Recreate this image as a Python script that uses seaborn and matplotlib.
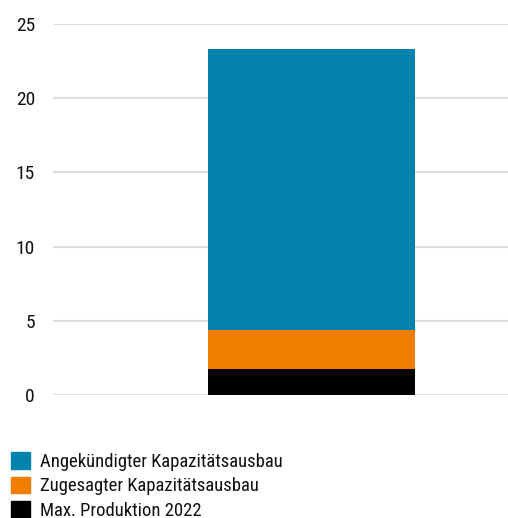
import numpy as np
import pandas as pd
import matplotlib
matplotlib.use("Agg")
import matplotlib.pyplot as plt
from matplotlib.patches import Patch
import seaborn as sns

# layers from bottom to top
labels = ["Max. Produktion 2022", "Zugesagter Kapazitätsausbau", "Angekündigter Kapazitätsausbau"]
values = [1.75, 2.63, 18.92]
colors = ["#000000", "#ef7d00", "#0282ad"]
category = ["Gesamt"]

sns.set_style("white")
plt.rcParams["font.family"] = ["Roboto Condensed", "DejaVu Sans"]

fig = plt.figure(figsize=(5.08, 5.18), dpi=100)
ax = fig.add_axes([53 / 508, 123 / 518, 455 / 508, 371 / 518])

totals = np.cumsum(values)
# draw tallest first so lower layers sit on top
for lab, tot, col in reversed(list(zip(labels, totals, colors))):
    df = pd.DataFrame({"cat": category, "val": [tot]})
    sns.barplot(data=df, x="cat", y="val", color=col, saturation=1, width=0.8,
                linewidth=0, ax=ax, zorder=3)

ax.set_xlim(-1.0, 0.76)
ax.set_ylim(0, 25)
ax.set_yticks([0, 5, 10, 15, 20, 25])
ax.set_xticks([])
ax.set_xlabel("")
ax.set_ylabel("")
ax.grid(axis="y", color="#dddddd", linewidth=1.5, zorder=0)
ax.set_axisbelow(True)
for s in ax.spines.values():
    s.set_visible(False)
ax.tick_params(axis="y", length=0, pad=13, labelsize=14, labelcolor="#111111")

handles = [Patch(color=c) for c in reversed(colors)]
fig.legend(handles, list(reversed(labels)), loc="upper left", bbox_to_anchor=(-0.004, 0.152),
           frameon=False, fontsize=13.4, handlelength=1.0, handleheight=1.0,
           handletextpad=0.55, labelspacing=0.3, borderaxespad=0.3,
           labelcolor="#111111")

fig.savefig("out.png", dpi=100)
